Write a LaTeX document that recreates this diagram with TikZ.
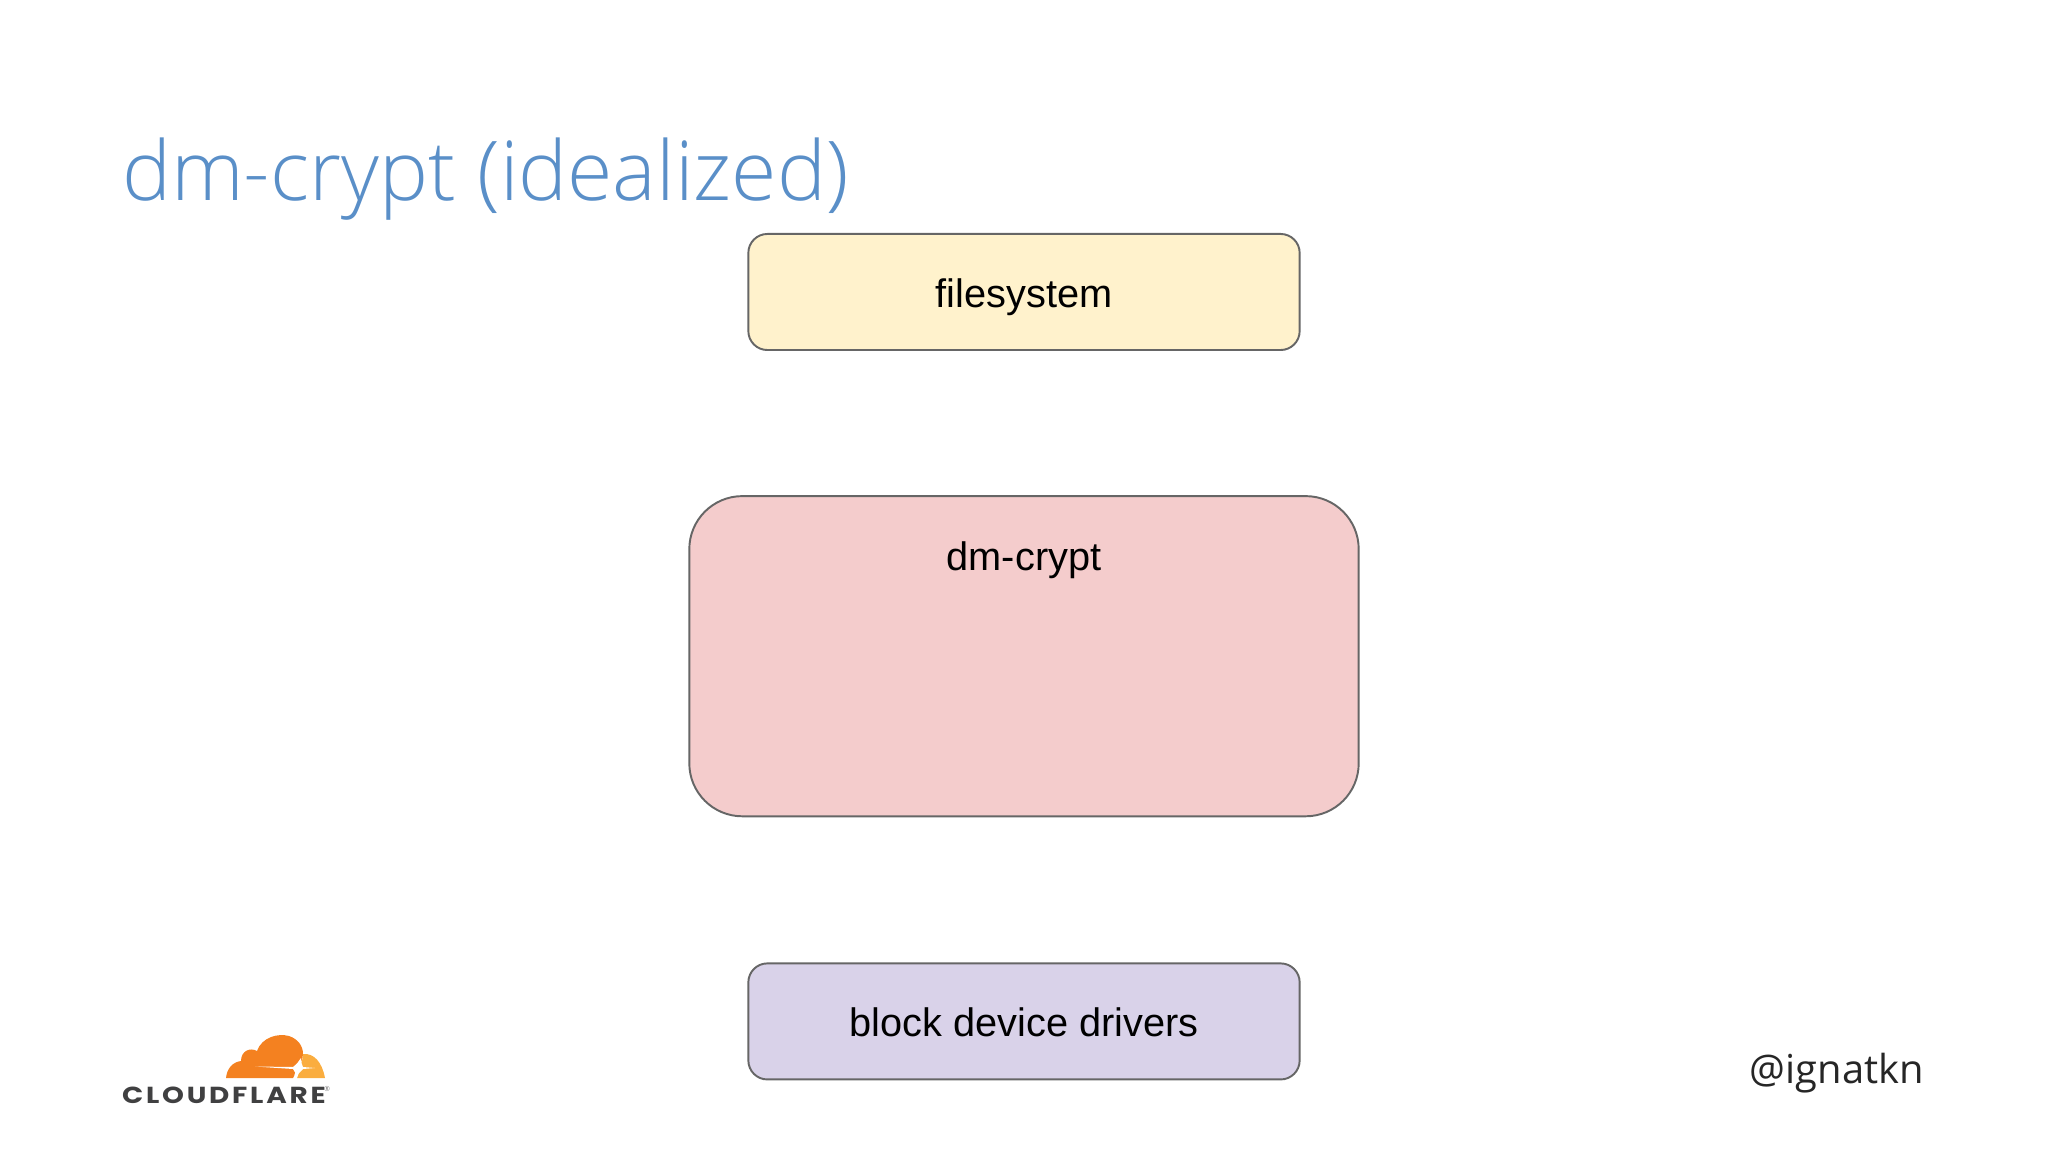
\documentclass[tikz,border=0pt]{standalone}
\usepackage{fontspec}
\setmainfont{Open Sans}
\newfontfamily\titlefont{Open Sans Light}
\newfontfamily\boxfont{Liberation Sans}
\newfontfamily\logofont[LetterSpace=12,FakeStretch=1.2]{Poppins}
\usetikzlibrary{positioning}
\definecolor{titleblue}{HTML}{5A8FC8}
\definecolor{boxline}{HTML}{666666}
\definecolor{fsyellow}{HTML}{FFF2CC}
\definecolor{cryptpink}{HTML}{F4CCCC}
\definecolor{drvpurple}{HTML}{D9D2E9}
\definecolor{logogrey}{HTML}{404041}
\definecolor{logoorange}{HTML}{F48120}
\definecolor{logolight}{HTML}{FAAD3F}
\begin{document}
\begin{tikzpicture}[x=.01cm,y=-.01cm]
	\tikzset{block/.style={draw=boxline, line width=.55pt, shape=rectangle, outer sep=0pt, inner sep=0pt, font=\boxfont\fontsize{11.3}{13}\selectfont, text=black, text height=.31cm, text depth=0pt},
		smallblock/.style={block, minimum width=5.51cm, minimum height=1.16cm, rounded corners=.19cm},
		plain/.style={inner sep=0pt, outer sep=0pt},
	}
	\useasboundingbox (0,0) rectangle (2048,1152);
	\node [plain, anchor=base west, text=titleblue, font=\titlefont\fontsize{23.45}{28}\selectfont] (title) at (122,201) {dm-crypt (idealized)};
	\node [smallblock, fill=fsyellow] (fs) at (1024,292) {filesystem};
	\node [block, below = 1.46cm of fs, fill=cryptpink, minimum width=6.69cm, minimum height=3.2cm, rounded corners=.53cm] (crypt) {};
	\node [plain, below = .435cm of crypt.north, font=\boxfont\fontsize{11.3}{13}\selectfont, text height=.31cm, text depth=0pt] (cryptlabel) {dm-crypt};
	\node [smallblock, below = 1.47cm of crypt, fill=drvpurple] (drv) {block device drivers};
	\node [plain, anchor=base east, font=\fontsize{11.35}{14}\selectfont, text=black!85] (handle) at (1924,1083) {@ignatkn};
	% logo
	\fill [logoorange] (226,1078) .. controls (227,1068) and (233,1062) .. (241,1061)
		.. controls (241,1051) and (250,1047) .. (257,1051)
		.. controls (262,1037) and (278,1033) .. (289,1036)
		.. controls (298,1039) and (303,1046) .. (303,1054)
		.. controls (303,1060) and (300,1065) .. (295,1068)
		-- (255,1066) -- (293,1068) .. controls (296,1071) and (295,1075) .. (293,1078) -- cycle;
	\fill [logolight] (303,1054) .. controls (314,1053) and (322,1062) .. (325,1078)
		-- (297,1078) .. controls (298,1073) and (298,1071) .. (296,1069)
		.. controls (301,1066) and (303,1060) .. (303,1054) -- cycle;
	\fill [white] (255,1066.5) -- (293,1067) .. controls (297,1064) and (299,1061) .. (301,1058)
		.. controls (301,1062) and (302,1065) .. (303,1067) -- (315,1068) -- (303,1069)
		.. controls (300,1071) and (298,1074) .. (297,1078) .. controls (296,1074) and (295,1071) .. (293,1069) -- cycle;
	\node [plain, anchor=base west, text=logogrey, font=\logofont\bfseries\fontsize{6.6}{8}\selectfont] (logotext) at (122,1103) {CLOUDFLARE};
	\node [plain, anchor=center, text=logogrey!70, font=\fontsize{2}{2.4}\selectfont] (logomark) at (327,1089) {®};
\end{tikzpicture}
\end{document}
